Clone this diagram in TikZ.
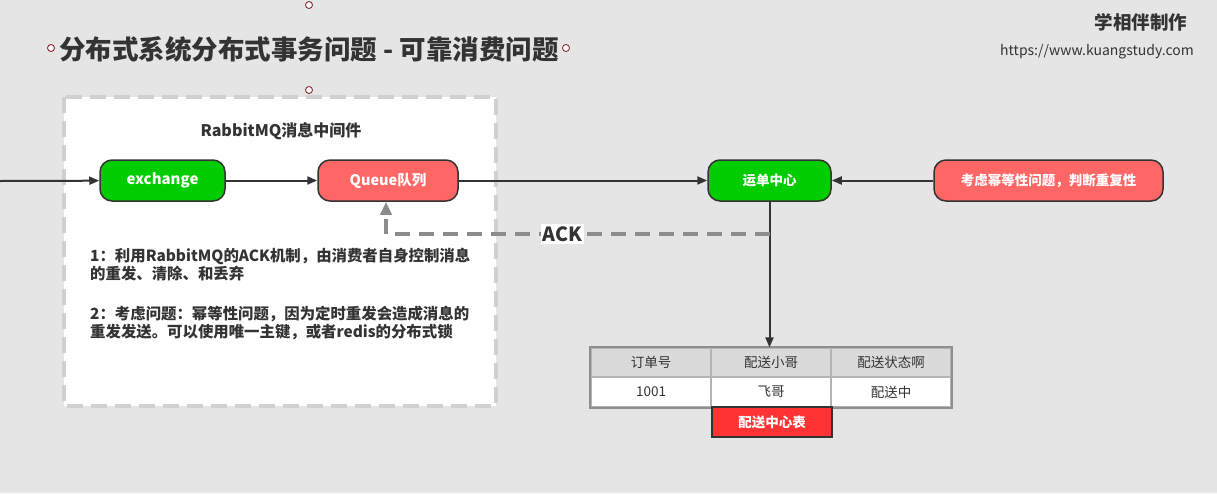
\documentclass[tikz,border=0pt]{standalone}
\usepackage{fontspec}
\setmainfont{Noto Sans CJK SC}
\usetikzlibrary{arrows.meta}
\definecolor{bggray}{HTML}{E5E5E5}
\definecolor{darktext}{HTML}{333333}
\definecolor{okgreen}{HTML}{00CC00}
\definecolor{warnred}{HTML}{FF6666}
\definecolor{tablered}{HTML}{FF3333}
\definecolor{boxgray}{HTML}{D0D0D0}
\definecolor{ackgray}{HTML}{8C8C8C}
\definecolor{cellline}{HTML}{B4B4B4}
\definecolor{tblborder}{HTML}{8E8E8E}
\definecolor{headfill}{HTML}{DADADA}
\definecolor{handlered}{HTML}{8B2E2E}
\begin{document}
\begin{tikzpicture}[x=1pt,y=-1pt,
                    flow node/.style={rounded corners=12pt,draw=darktext,line width=1.5pt,
                      minimum height=41pt,inner sep=0pt,text=white,
                      font=\bfseries\fontsize{13.5}{16}\selectfont},
                    green node/.style={flow node,fill=okgreen},
                    red node/.style={flow node,fill=warnred},
                    link/.style={draw=darktext,line width=2pt,-{Triangle[length=10pt,width=8pt]}},
                    ack line/.style={draw=ackgray,line width=3.5pt,dash pattern=on 15pt off 9pt,
                      -{Triangle[length=13pt,width=11pt]}},
                    ack label/.style={fill=white,text=darktext,inner sep=2pt,
                      font=\bfseries\fontsize{19.5}{22}\selectfont},
                    cell/.style={draw=cellline,line width=1.2pt,minimum width=120pt,
                      inner sep=0pt,text=darktext,font=\fontsize{13.5}{15}\selectfont},
                    head cell/.style={cell,fill=headfill,minimum height=29pt},
                    body cell/.style={cell,fill=white,minimum height=30pt},
                    note/.style={align=left,inner sep=0pt,text=darktext,
                      font=\bfseries\fontsize{15.4}{18}\selectfont},
                    handle/.style={draw=handlered,fill=white,line width=0.9pt}
                   ]
   \fill[bggray] (0,0) rectangle (1217,493);
   \useasboundingbox (0,0) rectangle (1217,493);

   % title and author
   \node[text=darktext,font=\bfseries\fontsize{26.5}{30}\selectfont] (title) at (309,49)
     {分布式系统分布式事务问题 - 可靠消费问题};
   \foreach \hx/\hy in {309/5,51/48,566/48,309/90}
     \draw[handle] (\hx,\hy) circle (3.5);
   \node[text=darktext,font=\bfseries\fontsize{18.5}{22}\selectfont] (maker) at (1141,22) {学相伴制作};
   \node[text=darktext,font=\fontsize{14}{16}\selectfont] (site) at (1097,52) {https://www.kuangstudy.com};

   % middleware box
   \draw[boxgray,fill=white,line width=3.5pt,dash pattern=on 16pt off 8pt] (64,97) rectangle (496,406);
   \node[text=darktext,font=\bfseries\fontsize{16}{18}\selectfont] (mqtitle) at (281,131) {RabbitMQ消息中间件};

   \coordinate (entry) at (0,181);
   \node[green node,minimum width=125pt,font=\bfseries\fontsize{15}{16}\selectfont] (ex) at (162.5,180.5) {exchange};
   \node[red node,minimum width=140pt,font=\bfseries\fontsize{14.5}{16}\selectfont] (q) at (388,180.5) {Queue队列};
   \node[green node,minimum width=123pt] (yd) at (769.5,180.5) {运单中心};
   \node[red node,minimum width=229pt] (kl) at (1048.5,180.5) {考虑幂等性问题，判断重复性};

   \node[note,anchor=west] (p1) at (90,265)
     {1：利用RabbitMQ的ACK机制，由消费者自身控制消息\\的重发、清除、和丢弃};
   \node[note,anchor=west] (p2) at (90,323)
     {2：考虑问题：幂等性问题，因为定时重发会造成消息的\\重发发送。可以使用唯一主键，或者redis的分布式锁};

   % table
   \node[head cell] (h1) at (651,362.5) {订单号};
   \node[head cell] (h2) at (771,362.5) {配送小哥};
   \node[head cell] (h3) at (891,362.5) {配送状态啊};
   \node[body cell] (b1) at (651,392) {1001};
   \node[body cell] (b2) at (771,392) {飞哥};
   \node[body cell] (b3) at (891,392) {配送中};
   \draw[tblborder,line width=2pt] (h1.north west) rectangle (b3.south east);
   \node[draw=darktext,fill=tablered,line width=1.5pt,minimum width=120pt,minimum height=30pt,
         inner sep=0pt,text=white,font=\bfseries\fontsize{13.5}{15}\selectfont] (tblname) at (772,422) {配送中心表};

   \draw[link] (entry) -- (ex);
   \draw[link] (ex) -- (q);
   \draw[link] (q) -- (yd);
   \draw[link] (kl) -- (yd);
   \draw[link] (yd) -- (yd |- h2.north);

   \coordinate (ackturn) at (386,234);
   \draw[ack line] (yd.south |- ackturn) -- node[ack label,pos=0.54] {ACK} (ackturn) -- (ackturn |- q.south);
\end{tikzpicture}
\end{document}
